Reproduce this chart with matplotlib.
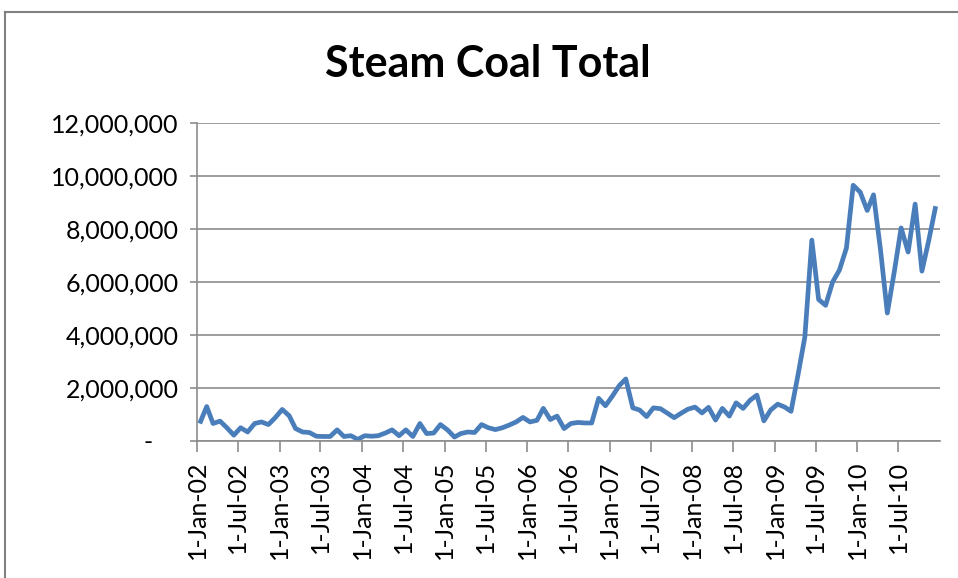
import pandas as pd
import matplotlib
matplotlib.use("Agg")
import matplotlib.pyplot as plt
from matplotlib.ticker import FuncFormatter, FixedLocator
from matplotlib.lines import Line2D

# Monthly steam coal totals, Jan 2002 - Dec 2010 (in millions)
start_month = "2002-01-01"
values_m = [
    0.66, 1.30, 0.66, 0.75, 0.50, 0.22, 0.50, 0.34, 0.66, 0.72, 0.62, 0.88,  # 2002
    1.19, 0.95, 0.47, 0.34, 0.32, 0.18, 0.17, 0.17, 0.42, 0.17, 0.20, 0.06,  # 2003
    0.20, 0.18, 0.20, 0.30, 0.42, 0.20, 0.42, 0.17, 0.66, 0.28, 0.30, 0.62,  # 2004
    0.42, 0.15, 0.28, 0.34, 0.32, 0.62, 0.50, 0.43, 0.50, 0.60, 0.72, 0.89,  # 2005
    0.72, 0.78, 1.23, 0.81, 0.94, 0.47, 0.66, 0.70, 0.68, 0.68, 1.61, 1.33,  # 2006
    1.70, 2.10, 2.34, 1.25, 1.17, 0.92, 1.25, 1.22, 1.05, 0.88, 1.05, 1.20,  # 2007
    1.28, 1.06, 1.27, 0.79, 1.23, 0.94, 1.44, 1.23, 1.54, 1.73, 0.76, 1.17,  # 2008
    1.39, 1.28, 1.12, 2.50, 3.92, 7.58, 5.34, 5.12, 6.00, 6.45, 7.28, 9.65,  # 2009
    9.39, 8.70, 9.29, 7.20, 4.83, 6.40, 8.04, 7.13, 8.94, 6.41, 7.60, 8.86,  # 2010
]
title = "Steam Coal Total"
y_ticks = [0, 2_000_000, 4_000_000, 6_000_000, 8_000_000, 10_000_000, 12_000_000]
x_ticks = pd.date_range("2002-01-01", "2010-07-01", freq="6MS")

# Excel puts each monthly point in the middle of its month slot
dates = pd.date_range(start_month, periods=len(values_m), freq="MS") + pd.Timedelta(days=12)
values = [v * 1_000_000 for v in values_m]

fig = plt.figure(figsize=(9.58, 5.78), dpi=100)
ax = fig.add_axes([197 / 958, 137 / 578, 743 / 958, 318 / 578])

ax.plot(dates, values, color="#4A7EBB", linewidth=3.4, solid_joinstyle="round",
        solid_capstyle="butt")

ax.set_xlim(pd.Timestamp("2002-01-01"), pd.Timestamp("2011-01-01"))
ax.set_ylim(0, 12_000_000)

ax.yaxis.set_major_locator(FixedLocator(y_ticks))
ax.yaxis.set_major_formatter(FuncFormatter(lambda v, p: "-    " if v == 0 else f"{int(v):,}"))
ax.xaxis.set_major_locator(FixedLocator(matplotlib.dates.date2num(x_ticks)))
ax.xaxis.set_major_formatter(FuncFormatter(
    lambda v, p: (lambda d: f"{d.day}-{d:%b-%y}")(matplotlib.dates.num2date(v))))

grid_color = "#8C8C8C"
ax.grid(axis="y", color=grid_color, linewidth=1.2)
ax.set_axisbelow(True)
for side in ["top", "right"]:
    ax.spines[side].set_visible(False)
ax.spines["left"].set_color(grid_color)
ax.spines["bottom"].set_color(grid_color)
ax.spines["left"].set_linewidth(1.2)
ax.spines["bottom"].set_linewidth(1.2)

ax.tick_params(axis="y", length=5, width=1.2, color=grid_color, labelsize=18, pad=8)
ax.tick_params(axis="x", length=8, width=1.2, color=grid_color, labelsize=18,
               labelrotation=90, pad=6)
for lbl in ax.get_xticklabels() + ax.get_yticklabels():
    lbl.set_fontfamily("Lato")

fig.text(0.509, 0.89, title, ha="center", va="center", fontsize=31,
         fontweight="bold", family="Lato")

# chart area border (left and top edges visible)
border = "#808080"
fig.add_artist(Line2D([5 / 958, 5 / 958], [0, 1 - 12 / 578], color=border, linewidth=1.5,
                      transform=fig.transFigure))
fig.add_artist(Line2D([5 / 958, 1], [1 - 12 / 578, 1 - 12 / 578], color=border,
                      linewidth=1.5, transform=fig.transFigure))

fig.savefig("out.png", dpi=100)
